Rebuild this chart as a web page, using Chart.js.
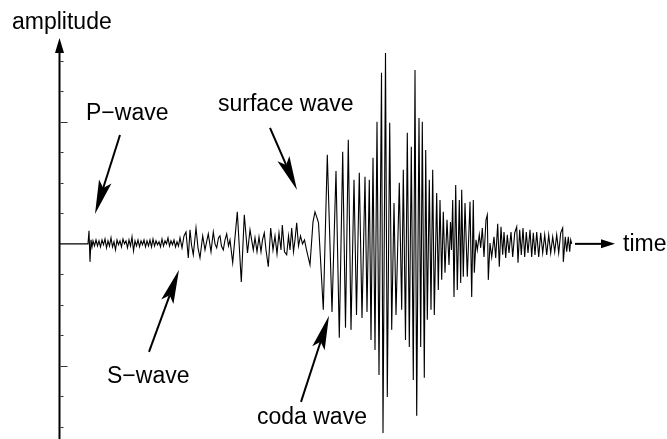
<!DOCTYPE html>
<html><head><meta charset="utf-8">
<script src="https://cdn.jsdelivr.net/npm/chart.js@4/dist/chart.umd.min.js"></script>
<style>html,body{margin:0;padding:0;background:#fff}canvas{display:block}</style>
</head><body>
<canvas id="c" width="667" height="439"></canvas>
<script>
// time (arbitrary units) and amplitude (in tick units)
const time = [
  0,28,29,30,31,32,33,
  34.5,36,37.5,39,40.5,42,43.5,45,46.5,48,49.5,51,52.5,54,55.5,57,58.5,60,61.5,63,64.5,66,67.5,69,70.5,72,73.5,75,76.5,78,79.5,81,82.5,84,85.5,87,88.5,90,91.5,93,94.5,96,97.5,99,100.5,102,103.5,105,106.5,108,109.5,111,112.5,114,115.5,117,118.5,
  120,122,124,126,128.3,130,131.5,133.3,136,138,140,142.7,145,147,148.3,151,153.3,155,156.7,158.5,160,161.5,163.3,165,166.7,168.5,170,
  172.7,177.3,181.3,184.3,187.5,190,193.3,195,197,199,201,202.5,204.3,206,208.3,210.7,213,215,217,219,221,222.3,224.5,226.7,228.5,230,231.7,233.5,235,236.7,238.5,240.5,242.5,244.5,246.5,250,253,255,257,258.5,
  263.3,267.3,272,276,279.3,282.7,285.5,288.3,291,294,296.5,299.3,302,305,307,309.3,311,313,315,317,319,321.5,323,325.5,327.3,329.7,331.7,334,336,339.3,341.7,343.3,345.5,347.3,349.3,351.3,353.3,355,356.7,359,360.7,362.3,364.3,365.7,367.3,369.3,371,372.7,374.3,376.7,378.3,380,381.7,383.3,385,387,389,390.5,391.5,392.7,394,395.7,397.3,399.3,400.7,401.7,403.3,405,407.3,410,411.7,413.3,414.3,
  416,417.3,419.3,420.7,422.3,424,426,427.3,428.3,430,431.7,434,435.7,437.7,439.3,441,442.7,444,445.7,447.3,449,451,452.7,454.7,456.7,458,459.7,461.3,463,464.7,466.3,468,470,471.7,473.3,475,476.7,478.7,480.7,482.7,484.7,486.7,488.7,490.7,492.7,494.7,496.7,498.7,500.7,502.7,503.3,505.3,506.7,508.3,509.7,510.7,511.7
];
const amplitude = [
  0,0,0.43,-0.59,0.13,-0.10,0.10,
  -0.07,0.13,-0.07,0.10,-0.10,0.13,-0.03,0.16,-0.13,0.10,-0.07,0.20,-0.10,0.07,-0.20,0.13,-0.03,0.10,-0.10,0.16,0,0.10,-0.13,0.13,-0.07,0.23,-0.23,0.10,-0.07,0.13,-0.10,0.10,-0.03,0.13,-0.10,0.10,-0.07,0.13,-0.10,0.16,-0.07,0.10,-0.03,0.07,-0.10,0.16,-0.07,0.10,0,0.20,-0.07,0.10,-0.03,0.13,-0.10,0.07,-0.07,
  0.20,-0.13,0.26,0.39,-0.46,0.46,-0.03,-0.36,0.52,-0.13,-0.46,0.26,-0.20,0.13,0.33,-0.26,0.39,0,-0.13,0.20,0.26,-0.07,-0.20,0.13,0.33,-0.07,0.13,
  -0.62,1.05,-1.25,0.95,-0.30,0.46,-0.20,0.20,-0.26,0.23,-0.26,0.13,0.36,-0.20,-0.75,0.52,-0.20,0.26,-0.33,0.36,-0.20,0.62,-0.26,-0.36,0.26,-0.20,0.52,-0.26,0.13,0.69,-0.07,0.26,0,0.13,-0.20,-0.69,0.72,1.05,0.85,0.69,
  -2.16,2.92,-2.23,2.39,-3.08,3.02,-2.75,3.41,-2.82,2.10,-2.33,2.33,-2.43,2.20,-2.23,2.10,-3.15,2.82,-3.48,4.00,-4.30,5.61,-6.20,6.26,-5.02,3.97,-2.82,1.34,-2.33,2.00,-2.16,2.43,-3.15,3.64,-3.38,3.18,-4.46,5.70,-5.64,4.13,-3.38,4.00,-4.39,3.08,-2.49,2.10,-2.16,2.43,-2.33,1.67,-1.51,1.44,-1.18,1.05,-0.95,0.79,-0.69,0.72,-0.20,1.44,-1.74,1.93,-1.51,1.44,-1.28,1.77,-1.08,1.34,-1.08,1.38,-1.74,1.44,-0.95,
  0.13,-0.20,0.30,-0.13,0.52,-0.43,0.79,0.95,-1.18,0.03,-0.43,0.23,-0.46,0.66,-0.75,0.56,-0.36,0.39,-0.46,0.30,-0.30,0.39,-0.43,0.36,0.56,-0.62,0.46,-0.36,0.52,-0.43,0.39,-0.30,0.46,-0.43,0.36,-0.36,0.39,-0.43,0.36,-0.30,0.30,-0.36,0.30,-0.30,0.23,-0.26,0.30,-0.30,0.36,0.52,-0.59,0.23,-0.26,0.23,-0.26,0.13,0
];
const amplitudeTicks = [-6,-5,-4,-3,-2,-1,1,2,3,4,5,6];
const majorAmplitudeTicks = [-4,4];
const phaseNames = ['P\u2212wave','surface wave','S\u2212wave','coda wave'];
// arrow [fromTime, fromAmp, toTime, toAmp] for each phase
const phaseArrows = [[60,3.57,35,0.98],[210,3.80,237,1.77],[89,-3.54,119,-0.85],[241,-5.18,269,-2.36]];
const phaseLabelAt = [[26,4.05],[158,4.36],[47,-4.56],[197,-5.90]];
const axisTitles = ['amplitude','time'];

const points = time.map((t,i)=>({x:t,y:amplitude[i]}));

function stealth(ctx,x1,y1,x2,y2,len,half,lw){
  const ang=Math.atan2(y2-y1,x2-x1);
  const ca=Math.cos(ang), sa=Math.sin(ang);
  const bx=x2-ca*len, by=y2-sa*len;
  const nx=x2-ca*len*0.8, ny=y2-sa*len*0.8;
  ctx.beginPath();ctx.lineWidth=lw;ctx.strokeStyle='#000';
  ctx.moveTo(x1,y1);ctx.lineTo(nx,ny);ctx.stroke();
  ctx.beginPath();ctx.fillStyle='#000';
  ctx.moveTo(x2,y2);
  ctx.lineTo(bx - sa*half, by + ca*half);
  ctx.lineTo(nx,ny);
  ctx.lineTo(bx + sa*half, by - ca*half);
  ctx.closePath();ctx.fill();
}

const decor = {
  id:'decor',
  afterDraw(chart){
    const ctx=chart.ctx, xs=chart.scales.x, ys=chart.scales.y;
    ctx.save();
    const ax = xs.getPixelForValue(0)-0.5;
    const top = ys.getPixelForValue(ys.max);
    // y axis line + arrow
    ctx.strokeStyle='#000';ctx.lineWidth=2;
    ctx.beginPath();ctx.moveTo(ax,top+12);ctx.lineTo(ax,chart.height);ctx.stroke();
    ctx.fillStyle='#000';ctx.beginPath();
    ctx.moveTo(ax,top);ctx.lineTo(ax-4.5,top+15);ctx.lineTo(ax+4.5,top+15);ctx.closePath();ctx.fill();
    // ticks
    ctx.lineWidth=1;ctx.strokeStyle='#333';
    amplitudeTicks.forEach(v=>{
      const y=Math.round(ys.getPixelForValue(v))+0.5;
      const len = majorAmplitudeTicks.includes(v)?7:3;
      ctx.beginPath();ctx.moveTo(ax+1,y);ctx.lineTo(ax+1+len,y);ctx.stroke();
    });
    // time arrow
    const y0=ys.getPixelForValue(0);
    const xa=xs.getPixelForValue(515), xb=xs.getPixelForValue(555);
    ctx.strokeStyle='#000';ctx.lineWidth=2;
    ctx.beginPath();ctx.moveTo(xa,y0);ctx.lineTo(xb-10,y0);ctx.stroke();
    ctx.beginPath();ctx.moveTo(xb,y0);ctx.lineTo(xb-14,y0-4.5);ctx.lineTo(xb-14,y0+4.5);ctx.closePath();ctx.fill();
    // phase arrows
    phaseArrows.forEach(a=>{
      stealth(ctx,xs.getPixelForValue(a[0]),ys.getPixelForValue(a[1]),xs.getPixelForValue(a[2]),ys.getPixelForValue(a[3]),34,6.5,2);
    });
    // texts
    ctx.font='23px "Liberation Sans", Arial, sans-serif';
    ctx.fillStyle='#000';ctx.textBaseline='alphabetic';ctx.textAlign='left';
    phaseNames.forEach((n,i)=>{
      ctx.fillText(n, xs.getPixelForValue(phaseLabelAt[i][0]), ys.getPixelForValue(phaseLabelAt[i][1]));
    });
    ctx.fillText(axisTitles[0], xs.getPixelForValue(-48), ys.getPixelForValue(7.05));
    ctx.fillText(axisTitles[1], xs.getPixelForValue(563), ys.getPixelForValue(-0.25));
    ctx.restore();
  }
};

new Chart(document.getElementById('c'),{
  type:'line',
  data:{datasets:[{data:points,borderColor:'#000',borderWidth:1.1,pointRadius:0,tension:0,fill:false}]},
  options:{
    responsive:false,animation:false,devicePixelRatio:1,
    layout:{padding:{left:60,right:47,top:38,bottom:3}},
    plugins:{legend:{display:false},tooltip:{enabled:false},title:{display:false}},
    scales:{
      x:{type:'linear',min:0,max:560,display:false},
      y:{type:'linear',min:-6.3,max:6.75,display:false}
    }
  },
  plugins:[decor]
});
</script>
</body></html>
